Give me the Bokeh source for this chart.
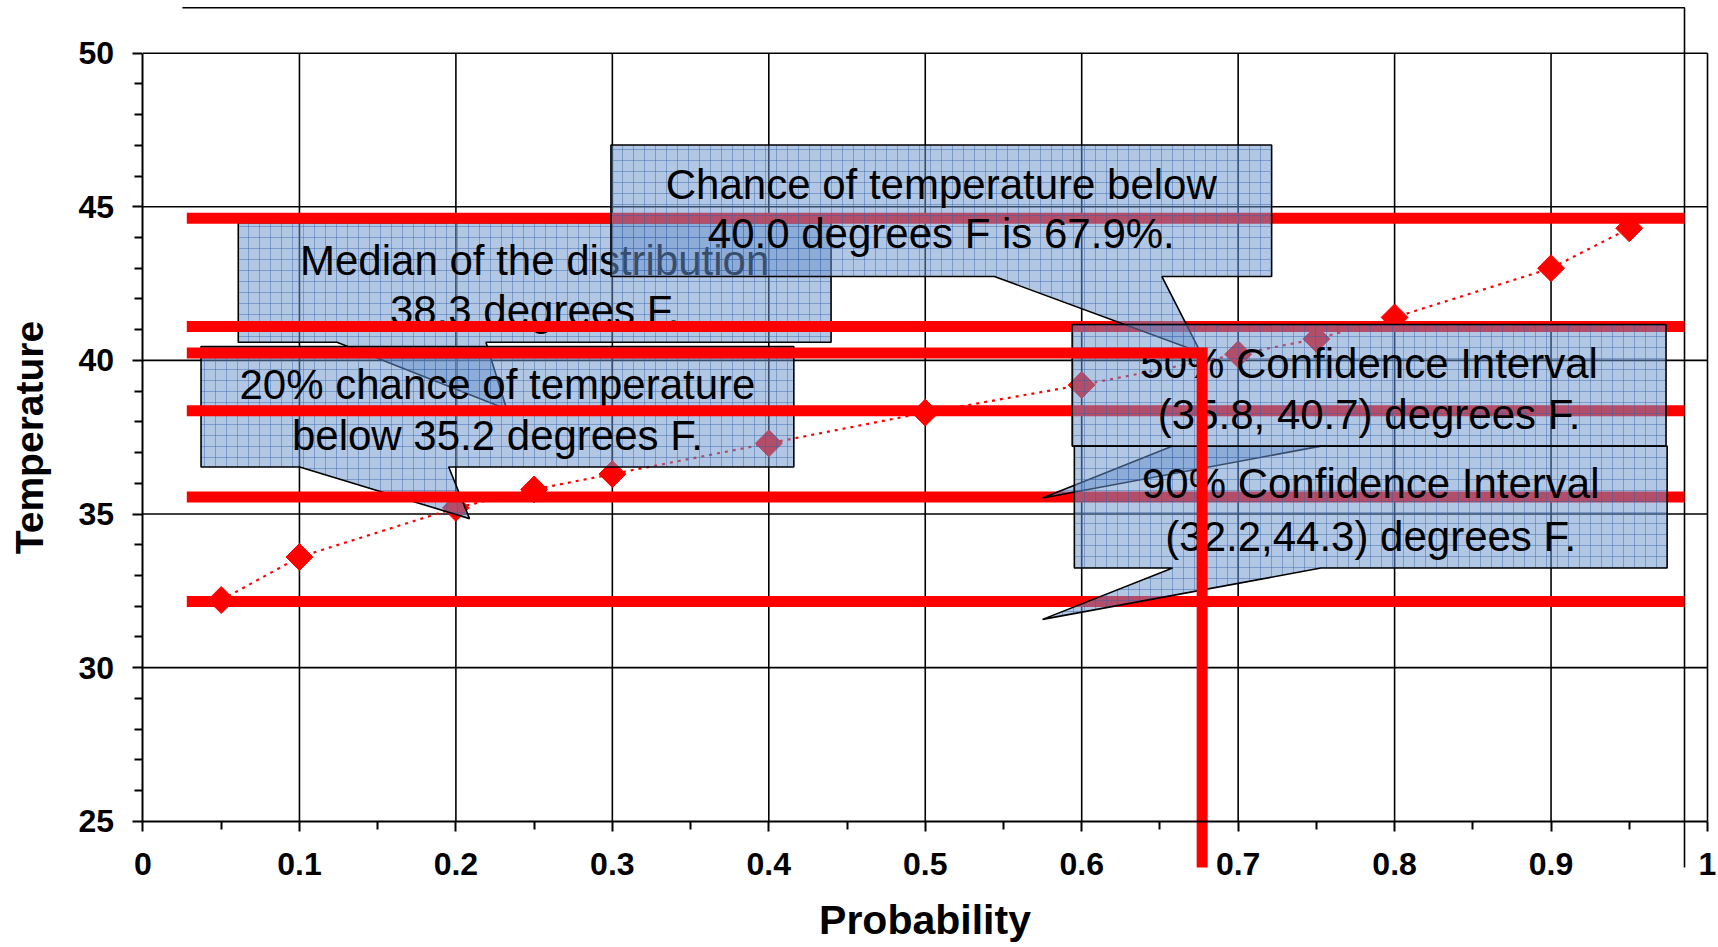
import numpy as np
from bokeh.plotting import figure
from bokeh.models import Range1d, LinearAxis, FixedTicker
from bokeh.core.properties import value
from bokeh.embed import file_html
from bokeh.resources import INLINE

# ---------------- data ----------------
probability = [0.05, 0.1, 0.2, 0.25, 0.3, 0.4, 0.5, 0.6, 0.7, 0.75, 0.8, 0.9, 0.95]
temperature = [32.2, 33.6, 35.2, 35.8, 36.3, 37.3, 38.3, 39.2, 40.2, 40.7, 41.4, 43.0, 44.3]

# horizontal red reference levels (as drawn)
ref_levels = [44.63, 41.10, 38.36, 35.55, 32.15]
# "chance below 40.0 F" indicator
indicator_temp = 40.24
indicator_prob = 0.677

x_ticks = [0, 0.1, 0.2, 0.3, 0.4, 0.5, 0.6, 0.7, 0.8, 0.9, 1.0]
x_tick_labels = ["0", "0.1", "0.2", "0.3", "0.4", "0.5", "0.6", "0.7", "0.8", "0.9", "1"]
y_ticks = [25, 30, 35, 40, 45, 50]

x_title = "Probability"
y_title = "Temperature"

callout_median = ["Median of the distribution", "38.3 degrees F."]
callout_below = ["20% chance of temperature", "below 35.2 degrees F."]
callout_chance = ["Chance of temperature below", "40.0 degrees F is 67.9%."]
callout_ci50 = ["50% Confidence Interval", "(35.8, 40.7) degrees F."]
callout_ci90 = ["90% Confidence Interval", "(32.2,44.3) degrees F."]

# ---------------- layout (data coordinates) ----------------
X0, X1 = -0.09108, 1.00703
Y0, Y1 = 20.889, 51.7155
REF_X0, REF_X1 = 0.028, 0.9853
FRAME_TOP = 51.478
FRAME_LEFT = 0.0252
FRAME_BOTTOM = 23.49

# (left, right, bottom, top, ptr_base_left, ptr_base_right, tip_x, tip_y, line1_y, line2_y)
geo_median = (0.0609, 0.4398, 40.59, 44.48, 0.1240, 0.2192, 0.2325, 38.41, 43.26, 41.62)
geo_below = (0.0371, 0.4160, 36.53, 40.45, 0.1001, 0.1954, 0.2087, 34.85, 39.23, 37.55)
geo_chance = (0.2991, 0.7214, 42.73, 47.01, 0.5442, 0.6513, 0.676, 40.26, 45.72, 44.12)
geo_ci50 = (0.5939, 0.9735, 37.21, 41.17, 0.6581, 0.7529, 0.5750, 35.52, 39.91, 38.23)
geo_ci90 = (0.5953, 0.9742, 33.24, 37.21, 0.6581, 0.7529, 0.5750, 31.57, 35.99, 34.28)

FONT = "Liberation Sans"

p = figure(width=1718, height=947, x_range=Range1d(X0, X1), y_range=Range1d(Y0, Y1),
           output_backend="svg", toolbar_location=None,
           x_axis_type=None, y_axis_type=None, min_border=0,
           outline_line_color=None, background_fill_color="white")

# ---------------- axes ----------------
x_minor = [t + 0.05 for t in x_ticks[:-1]]
y_minor = [v for v in range(y_ticks[0], y_ticks[-1]) if v not in y_ticks]

xaxis = LinearAxis(fixed_location=y_ticks[0], bounds=(x_ticks[0], x_ticks[-1]),
                   ticker=FixedTicker(ticks=x_ticks, minor_ticks=x_minor),
                   major_label_overrides={t: l for t, l in zip(x_ticks, x_tick_labels)},
                   axis_label=x_title)
yaxis = LinearAxis(fixed_location=x_ticks[0], bounds=(y_ticks[0], y_ticks[-1]),
                   ticker=FixedTicker(ticks=y_ticks, minor_ticks=y_minor),
                   axis_label=y_title)
for ax, std, lstd in ((xaxis, 22, 18), (yaxis, 19, 24)):
    ax.axis_line_width = 2
    ax.axis_line_color = "black"
    ax.major_tick_line_width = 2
    ax.minor_tick_line_width = 2
    ax.major_tick_in = 0
    ax.minor_tick_in = 0
    ax.major_tick_out = 10
    ax.minor_tick_out = 8
    ax.major_label_text_font = FONT
    ax.major_label_text_font_style = "bold"
    ax.major_label_text_font_size = "32px"
    ax.major_label_text_color = "black"
    ax.major_label_standoff = std
    ax.axis_label_text_font = FONT
    ax.axis_label_text_font_style = "bold"
    ax.axis_label_text_color = "black"
    ax.axis_label_standoff = lstd
xaxis.axis_label_text_font_size = "41px"
yaxis.axis_label_text_font_size = "39px"
p.add_layout(xaxis, "below")
p.add_layout(yaxis, "left")

# ---------------- grid ----------------
vx = x_ticks[1:]
p.segment(x0=vx, x1=vx, y0=[y_ticks[0]] * len(vx), y1=[y_ticks[-1]] * len(vx),
          line_color="black", line_width=1.6)
hy = y_ticks[1:]
p.segment(x0=[x_ticks[0]] * len(hy), x1=[x_ticks[-1]] * len(hy), y0=hy, y1=hy,
          line_color="black", line_width=1.6)

# outer chart-area border pieces
p.line([FRAME_LEFT, REF_X1, REF_X1], [FRAME_TOP, FRAME_TOP, FRAME_BOTTOM],
       line_color="black", line_width=1.6)

# ---------------- series ----------------
p.line(probability, temperature, line_color="red", line_width=2.2, line_dash="3 5")
p.scatter(probability, temperature, marker="square", angle=np.pi / 4, size=19,
          fill_color="red", line_color="red")


def callout(geo, lines):
    l, r, b, t, bl, br, tx, ty, y1, y2 = geo
    xs = [l, r, r, br, tx, bl, l]
    ys = [t, t, b, b, ty, b, b]
    p.patch(xs, ys, fill_color="#6b93cc", fill_alpha=0.52,
            hatch_pattern="+", hatch_color="#2f5fa8", hatch_alpha=0.42,
            hatch_scale=11, hatch_weight=1,
            line_color="black", line_width=1.6)
    cx = (l + r) / 2
    p.text(x=[cx, cx], y=[y1, y2], text=lines, text_align="center",
           text_baseline="middle", text_font=value(FONT),
           text_font_size="42px", text_color="black")


callout(geo_median, callout_median)
callout(geo_below, callout_below)

# red reference lines
n = len(ref_levels)
p.segment(x0=[REF_X0] * n, x1=[REF_X1] * n, y0=ref_levels, y1=ref_levels,
          line_color="red", line_width=11)

callout(geo_chance, callout_chance)
callout(geo_ci50, callout_ci50)
callout(geo_ci90, callout_ci90)

# indicator line for P(T < 40.0)
p.line([REF_X0, indicator_prob, indicator_prob], [indicator_temp, indicator_temp, FRAME_BOTTOM],
       line_color="red", line_width=11, line_join="miter")

open("out.html", "w").write(file_html(p, INLINE))
